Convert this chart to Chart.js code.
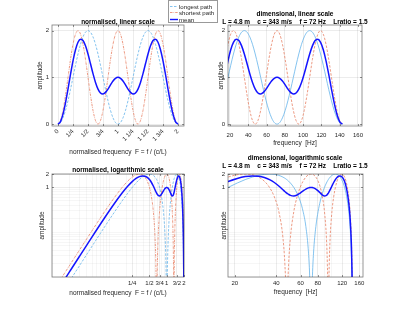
<!DOCTYPE html>
<html><head><meta charset="utf-8">
<script src="https://cdn.jsdelivr.net/npm/chart.js@4"></script>
<style>
html,body{margin:0;padding:0;background:#fff;width:400px;height:312px;overflow:hidden;font-family:"Liberation Sans",Arial,sans-serif;}
canvas{position:absolute;left:0;top:0;}
.t{position:absolute;font-weight:bold;font-size:6.5px;color:#000;white-space:pre;transform:translate(-50%,-50%);line-height:1;}
#legend{position:absolute;left:168px;top:0px;width:48px;height:21px;border:1px solid #999;background:#fff;font-size:6.1px;color:#262626;}
#legend .row{position:absolute;left:1px;height:7px;line-height:7px;white-space:nowrap;}
#legend svg{position:absolute;left:0;top:1px;}
#legend span{position:absolute;left:9px;top:0;}
</style></head>
<body>
<canvas id="c1" width="400" height="312"></canvas>
<canvas id="c2" width="400" height="312"></canvas>
<canvas id="c3" width="400" height="312"></canvas>
<canvas id="c4" width="400" height="312"></canvas>
<div class="t" style="left:118px;top:22px">normalised, linear scale</div>
<div class="t" style="left:295px;top:14px">dimensional, linear scale</div>
<div class="t" style="left:295px;top:21.5px">L = 4.8 m    c = 343 m/s    f = 72 Hz    Lratio = 1.5</div>
<div class="t" style="left:118px;top:169.5px">normalised, logarithmic scale</div>
<div class="t" style="left:295px;top:158px">dimensional, logarithmic scale</div>
<div class="t" style="left:295px;top:166px">L = 4.8 m    c = 343 m/s    f = 72 Hz    Lratio = 1.5</div>
<div id="legend">
 <div class="row" style="top:1.5px"><svg width="8" height="5"><line x1="0" y1="2.5" x2="8" y2="2.5" stroke="rgb(100,180,235)" stroke-width="0.8" stroke-dasharray="2.5,1.5"/></svg><span>longest path</span></div>
 <div class="row" style="top:8px"><svg width="8" height="5"><line x1="0" y1="2.5" x2="8" y2="2.5" stroke="rgb(232,130,100)" stroke-width="0.8" stroke-dasharray="2.5,1,0.7,1"/></svg><span>shortest path</span></div>
 <div class="row" style="top:14.5px"><svg width="8" height="5"><line x1="0" y1="2.5" x2="8" y2="2.5" stroke="rgb(20,20,255)" stroke-width="1.4"/></svg><span>mean</span></div>
</div>
<script>
// ---------- data ----------
// normalised frequency F (linear plots)
const freqNorm = [0,0.0417,0.0833,0.125,0.1667,0.2083,0.25,0.2917,0.3333,0.375,0.4167,0.4583,0.5,0.5417,0.5833,0.625,0.6667,0.7083,0.75,0.7917,0.8333,0.875,0.9167,0.9583,1,1.0417,1.0833,1.125,1.1667,1.2083,1.25,1.2917,1.3333,1.375,1.4167,1.4583,1.5,1.5417,1.5833,1.625,1.6667,1.7083,1.75,1.7917,1.8333,1.875,1.9167,1.9583,2];
const longestLin = [0,0.034,0.134,0.293,0.5,0.741,1,1.259,1.5,1.707,1.866,1.966,2,1.966,1.866,1.707,1.5,1.259,1,0.741,0.5,0.293,0.134,0.034,0,0.034,0.134,0.293,0.5,0.741,1,1.259,1.5,1.707,1.866,1.966,2,1.966,1.866,1.707,1.5,1.259,1,0.741,0.5,0.293,0.134,0.034,0];
const shortestLin = [0,0.076,0.293,0.617,1,1.383,1.707,1.924,2,1.924,1.707,1.383,1,0.617,0.293,0.076,0,0.076,0.293,0.617,1,1.383,1.707,1.924,2,1.924,1.707,1.383,1,0.617,0.293,0.076,0,0.076,0.293,0.617,1,1.383,1.707,1.924,2,1.924,1.707,1.383,1,0.617,0.293,0.076,0];
const meanLin = [0,0.055,0.213,0.455,0.75,1.062,1.354,1.591,1.75,1.815,1.787,1.674,1.5,1.291,1.079,0.892,0.75,0.667,0.646,0.679,0.75,0.838,0.921,0.979,1,0.979,0.921,0.838,0.75,0.679,0.646,0.667,0.75,0.892,1.079,1.291,1.5,1.674,1.787,1.815,1.75,1.591,1.354,1.062,0.75,0.455,0.213,0.055,0];
// log plots (denser near the notches)
const freqLog = [0.01,0.015,0.02,0.03,0.0417,0.0833,0.125,0.1667,0.2083,0.25,0.2917,0.3333,0.375,0.4167,0.4583,0.5,0.5417,0.5833,0.625,0.6458,0.6563,0.6667,0.6771,0.6875,0.7083,0.75,0.7917,0.8333,0.875,0.9167,0.9583,0.9792,0.9896,1,1.0104,1.0208,1.0417,1.0833,1.125,1.1667,1.2083,1.25,1.2917,1.3125,1.3229,1.3333,1.3438,1.3542,1.375,1.4167,1.4583,1.5,1.5417,1.5833,1.625,1.6667,1.7083,1.75,1.7917,1.8333,1.875,1.9167,1.9583,1.9792,1.9896,2];
const longestLog = [0.00197,0.00444,0.0079,0.01772,0.0341,0.134,0.2929,0.5,0.7412,1,1.2588,1.5,1.7071,1.866,1.9659,2,1.9659,1.866,1.7071,1.6088,1.5556,1.5,1.4423,1.3827,1.2588,1,0.7412,0.5,0.2929,0.134,0.0341,0.00856,0.00214,0.0001,0.00214,0.00856,0.0341,0.134,0.2929,0.5,0.7412,1,1.2588,1.3827,1.4423,1.5,1.5556,1.6088,1.7071,1.866,1.9659,2,1.9659,1.866,1.7071,1.5,1.2588,1,0.7412,0.5,0.2929,0.134,0.0341,0.00856,0.00214,0.0001];
const shortestLog = [0.00444,0.00999,0.01772,0.0397,0.0761,0.293,0.6173,1,1.3827,1.7071,1.9239,2,1.9239,1.7071,1.3827,1,0.6173,0.2929,0.0761,0.0192,0.00482,0.0001,0.00482,0.0192,0.0761,0.2929,0.6173,1,1.3827,1.7071,1.9239,1.9808,1.9952,2,1.9952,1.9808,1.9239,1.7071,1.3827,1,0.6173,0.2929,0.0761,0.0192,0.00482,0.0001,0.00482,0.0192,0.0761,0.2929,0.6173,1,1.3827,1.7071,1.9239,2,1.9239,1.7071,1.3827,1,0.6173,0.2929,0.0761,0.0192,0.00482,0.0001];
const meanLog = [0.00321,0.00722,0.01281,0.02871,0.0551,0.213,0.4551,0.75,1.0619,1.3536,1.5913,1.75,1.8155,1.7866,1.6743,1.5,1.2916,1.0795,0.8916,0.814,0.7802,0.75,0.7236,0.701,0.6675,0.6464,0.6793,0.75,0.8378,0.9206,0.979,0.9947,0.9987,1,0.9987,0.9947,0.979,0.9206,0.8378,0.75,0.6793,0.6464,0.6675,0.701,0.7236,0.75,0.7802,0.814,0.8916,1.0795,1.2916,1.5,1.6743,1.7866,1.8155,1.75,1.5913,1.3536,1.0619,0.75,0.4551,0.2135,0.0551,0.0139,0.00348,0.0001];
// physical parameters (from the title)
const lengthM = 4.8, soundSpeed = 343;
// ticks
const normTicks = [0,0.25,0.5,0.75,1,1.25,1.5,1.75,2];
const normTickLabels = ['0','1/4','1/2','3/4','1','1 1/4','1 1/2','1 3/4','2'];
const hzTicksLin = [20,40,60,80,100,120,140,160];
const normLogTicks = [0.25,0.5,0.75,1,1.5,2];
const normLogTickLabels = ['1/4','1/2','3/4','1','3/2','2'];
const normLogMinor = [0.01,0.02,0.03,0.04,0.05,0.06,0.07,0.08,0.09,0.1,0.2,0.3,0.4,0.5,0.6,0.7,0.8,0.9,1,2];
const hzLogTicks = [20,40,60,80,120,160];
const hzLogMinor = [20,30,40,50,60,70,80,90,100];
const ampTicksLin = [0,1,2];
const ampLogTicks = [1,2];
const ampLogMinor = [0.01,0.02,0.03,0.04,0.05,0.06,0.07,0.08,0.09,0.1,0.2,0.3,0.4,0.5,0.6,0.7,0.8,0.9,1,2];

// ---------- styling ----------
Chart.defaults.font.family = "'Liberation Sans', Arial, sans-serif";
Chart.defaults.color = '#262626';
const C_LONG = 'rgb(100,180,235)', C_SHORT = 'rgb(232,130,100)', C_MEAN = 'rgb(20,20,255)';
const GRID_MAJ = 'rgba(0,0,0,0.11)', GRID_MIN = 'rgba(0,0,0,0.05)';
const DASH = [2.5,1.5], DASHDOT = [2.5,1,0.7,1];
const f0 = soundSpeed / lengthM;

const frame = {
  id: 'frame',
  afterDraw(chart) {
    const {ctx, chartArea: a} = chart;
    ctx.save();
    ctx.strokeStyle = 'rgba(38,38,38,0.6)';
    ctx.lineWidth = 0.8;
    ctx.strokeRect(a.left, a.top, a.right - a.left, a.bottom - a.top);
    ctx.beginPath();
    const sx = chart.scales.x, sy = chart.scales.y;
    for (const t of sx.ticks) {
      if (!t.label) continue;
      const p = Math.round(sx.getPixelForValue(t.value)) + 0.5;
      ctx.moveTo(p, a.bottom); ctx.lineTo(p, a.bottom - 2);
      ctx.moveTo(p, a.top); ctx.lineTo(p, a.top + 2);
    }
    for (const t of sy.ticks) {
      if (!t.label) continue;
      const p = Math.round(sy.getPixelForValue(t.value)) + 0.5;
      ctx.moveTo(a.left, p); ctx.lineTo(a.left + 2, p);
      ctx.moveTo(a.right, p); ctx.lineTo(a.right - 2, p);
    }
    ctx.stroke();
    ctx.restore();
  }
};

function toPts(xs, ys, k) { return xs.map((x, i) => ({x: x * k, y: ys[i]})); }

function ds(label, data, color, width, dash) {
  return {label, data, borderColor: color, borderWidth: width, borderDash: dash, pointRadius: 0,
          fill: false, tension: 0.4, cubicInterpolationMode: 'monotone'};
}

function axis(o) {
  const majors = o.ticks, labels = o.labels, minors = o.minor || [];
  const all = Array.from(new Set([...minors, ...majors])).sort((a, b) => a - b);
  return {
    type: o.type, min: o.min, max: o.max, bounds: 'data',
    afterBuildTicks: s => { s.ticks = all.map(v => ({value: v})); },
    ticks: {
      autoSkip: false, font: {size: 6}, padding: o.pad, color: '#262626',
      minRotation: o.rot || 0, maxRotation: o.rot || 0,
      callback: v => { const i = majors.findIndex(m => Math.abs(m - v) < 1e-9); return i < 0 ? '' : labels[i]; }
    },
    grid: {drawTicks: false, lineWidth: 0.7,
      color: c => (c.tick && majors.some(m => Math.abs(m - c.tick.value) < 1e-9)) ? GRID_MAJ : GRID_MIN},
    border: {display: false},
    title: {display: true, text: o.title, font: {size: 6.5}, padding: 0, color: '#262626'},
    afterFit: s => {
      if (o.w !== undefined) s.width = o.w;
      if (o.h !== undefined) s.height = o.h;
      s.paddingLeft = 0; s.paddingRight = 0; s.paddingTop = 0; s.paddingBottom = 0;
    }
  };
}

function make(id, area, W, H, xAx, yAx, datasets) {
  new Chart(document.getElementById(id), {
    type: 'line',
    data: {datasets},
    options: {
      responsive: false, animation: false, devicePixelRatio: 1,
      layout: {padding: {left: area.l - W, top: area.t, right: 400 - area.r, bottom: 312 - area.b - H}},
      plugins: {legend: {display: false}, tooltip: {enabled: false}, title: {display: false}},
      scales: {x: xAx, y: yAx}
    },
    plugins: [frame]
  });
}

const FX = 'normalised frequency  F = f / (c/L)';
const HX = 'frequency  [Hz]';

// top-left: normalised, linear
make('c1', {l: 52, t: 25, r: 184, b: 126}, 16, 30,
  axis({type: 'linear', min: -0.1, max: 2.1, ticks: normTicks, labels: normTickLabels, rot: 45, pad: 2, title: FX, h: 30}),
  axis({type: 'linear', min: -0.04, max: 2.12, ticks: ampTicksLin, labels: ampTicksLin.map(String), pad: 3, title: 'amplitude', w: 16}),
  [ds('mean', toPts(freqNorm, meanLin, 1), C_MEAN, 1.5, []),
   ds('longest path', toPts(freqNorm, longestLin, 1), C_LONG, 0.8, DASH),
   ds('shortest path', toPts(freqNorm, shortestLin, 1), C_SHORT, 0.8, DASHDOT)]);

// top-right: dimensional, linear
make('c2', {l: 228, t: 25, r: 362, b: 126}, 11, 21,
  axis({type: 'linear', min: 17.86, max: 164.4, ticks: hzTicksLin, labels: hzTicksLin.map(String), pad: 6, title: HX, h: 21}),
  axis({type: 'linear', min: -0.04, max: 2.12, ticks: ampTicksLin, labels: ampTicksLin.map(String), pad: 3, title: 'amplitude', w: 11}),
  [ds('mean', toPts(freqNorm, meanLin, f0), C_MEAN, 1.5, []),
   ds('longest path', toPts(freqNorm, longestLin, f0), C_LONG, 0.8, []),
   ds('shortest path', toPts(freqNorm, shortestLin, f0), C_SHORT, 0.8, DASH)]);

// bottom-left: normalised, log
make('c3', {l: 52, t: 174, r: 184, b: 277}, 14, 20,
  axis({type: 'logarithmic', min: 0.01, max: 2, ticks: normLogTicks, labels: normLogTickLabels, minor: normLogMinor, pad: 3, title: FX, h: 20}),
  axis({type: 'logarithmic', min: 0.01, max: 2, ticks: ampLogTicks, labels: ampLogTicks.map(String), minor: ampLogMinor, pad: 3, title: 'amplitude', w: 14}),
  [ds('mean', toPts(freqLog, meanLog, 1), C_MEAN, 1.5, []),
   ds('longest path', toPts(freqLog, longestLog, 1), C_LONG, 0.8, DASH),
   ds('shortest path', toPts(freqLog, shortestLog, 1), C_SHORT, 0.8, DASHDOT)]);

// bottom-right: dimensional, log
make('c4', {l: 228, t: 174, r: 363, b: 277}, 8, 19,
  axis({type: 'logarithmic', min: 17.86, max: 170, ticks: hzLogTicks, labels: hzLogTicks.map(String), minor: hzLogMinor, pad: 3, title: HX, h: 19}),
  axis({type: 'logarithmic', min: 0.01, max: 2, ticks: ampLogTicks, labels: ampLogTicks.map(String), minor: ampLogMinor, pad: 3, title: 'amplitude', w: 8}),
  [ds('mean', toPts(freqLog, meanLog, f0), C_MEAN, 1.5, []),
   ds('longest path', toPts(freqLog, longestLog, f0), C_LONG, 0.8, []),
   ds('shortest path', toPts(freqLog, shortestLog, f0), C_SHORT, 0.8, DASH)]);
</script>
</body></html>
